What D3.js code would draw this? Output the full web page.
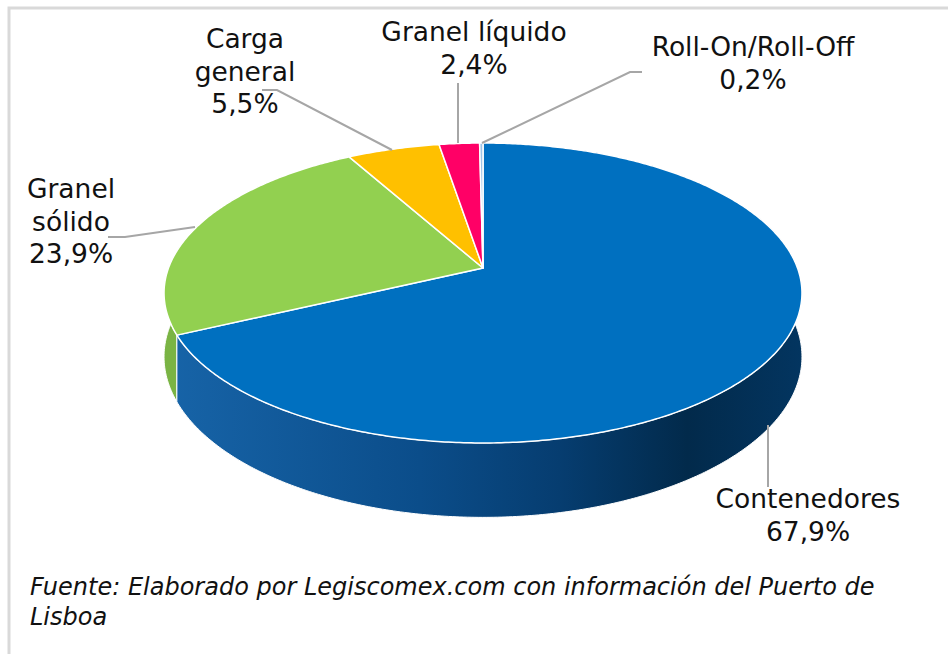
<!DOCTYPE html>
<html>
<head>
<meta charset="utf-8">
<script src="https://cdn.jsdelivr.net/npm/d3@7"></script>
<style>
  body { margin: 0; background: #fff; }
  svg text { font-family: "DejaVu Sans", Verdana, sans-serif; fill: #111; }
</style>
</head>
<body>
<div id="chart"></div>
<script>
// Data
const categories = ['Contenedores', 'Granel sólido', 'Carga general', 'Granel líquido', 'Roll-On/Roll-Off'];
const shares = [67.9, 23.9, 5.5, 2.4, 0.2];
const shareLabels = ['67,9%', '23,9%', '5,5%', '2,4%', '0,2%'];
const labelLines = [['Contenedores'], ['Granel', 'sólido'], ['Carga', 'general'], ['Granel líquido'], ['Roll-On/Roll-Off']];
const sourceLines = ['Fuente: Elaborado por Legiscomex.com con información del Puerto de', 'Lisboa'];

// Styles / layout
const topColors = ['#0070C0', '#92D050', '#FFC000', '#FF0066', '#9DC3E6'];
const sideColors = ['url(#blueSide)', '#7ab444', '#d9a300', '#cc0052', '#7a9cc6'];
const labelPos = [
    {x: 808, y: 508, line: [[768, 425], [768, 487]]},
    {x: 71, y: 198, line: [[108, 237], [125, 237], [195, 227]]},
    {x: 245, y: 48, line: [[262, 90], [277, 90], [392, 150]]},
    {x: 474, y: 41, line: [[458, 83], [458, 143]]},
    {x: 753, y: 56, line: [[642, 72], [630, 72], [482, 143]]}
];

const W = 948, H = 654;
const svg = d3.select('#chart').append('svg')
    .attr('width', W)
    .attr('height', H);

// frame
svg.append('rect')
    .attr('x', 9).attr('y', 8)
    .attr('width', 980).attr('height', 700)
    .attr('fill', '#fff')
    .attr('stroke', '#d9d9d9')
    .attr('stroke-width', 3);

const defs = svg.append('defs');
const grad = defs.append('linearGradient')
    .attr('id', 'blueSide')
    .attr('gradientUnits', 'userSpaceOnUse')
    .attr('x1', 165).attr('x2', 802).attr('y1', 0).attr('y2', 0);
[[0, '#1764a8'], [0.4, '#0b4d8a'], [0.62, '#063d70'], [0.82, '#022a4b'], [1, '#033560']]
    .forEach(s => grad.append('stop').attr('offset', s[0]).attr('stop-color', s[1]));

// perspective projection of a tilted disc
const cx = 483, cy = 268, A = 314.5, B = 145.8, k = 1 / 6, depth = 62;
function proj(phi, r, z) {
    const x = r * Math.sin(phi), d = -r * Math.cos(phi);
    const s = 1 / (1 - k * d);
    return [cx + A * x * s, cy + (B * d + z) * s];
}
function arcPts(a0, a1, z) {
    const n = Math.max(2, Math.ceil((a1 - a0) / 0.01));
    return d3.range(n + 1).map(i => proj(a0 + (a1 - a0) * i / n, 1, z));
}

const pie = d3.pie().sort(null).value(d => d)(shares);
const line = d3.line();

// walls (back slices first, the big one last)
const wallOrder = [3, 2, 4, 1, 0];
svg.append('g').selectAll('path')
    .data(wallOrder.map(i => pie[i]))
    .enter().append('path')
    .attr('d', p => line(arcPts(p.startAngle, p.endAngle, 0)
        .concat(arcPts(p.startAngle, p.endAngle, depth).reverse())) + 'Z')
    .attr('fill', p => sideColors[p.index])
    .attr('stroke', '#fff')
    .attr('stroke-width', 1)
    .attr('stroke-linejoin', 'round');

// top faces
svg.append('g').selectAll('path')
    .data(pie)
    .enter().append('path')
    .attr('d', p => line([proj(0, 0, 0)].concat(arcPts(p.startAngle, p.endAngle, 0))) + 'Z')
    .attr('fill', p => topColors[p.index])
    .attr('stroke', '#fff')
    .attr('stroke-width', 1.5)
    .attr('stroke-linejoin', 'round');

// leader lines
svg.append('g').selectAll('path')
    .data(labelPos)
    .enter().append('path')
    .attr('d', d => line(d.line))
    .attr('fill', 'none')
    .attr('stroke', '#a6a6a6')
    .attr('stroke-width', 2);

// labels
const lbl = svg.append('g').selectAll('text')
    .data(categories)
    .enter().append('text')
    .attr('text-anchor', 'middle')
    .attr('font-size', 26.5)
    .attr('x', (d, i) => labelPos[i].x)
    .attr('y', (d, i) => labelPos[i].y);
lbl.each(function(d, i) {
    const t = d3.select(this);
    labelLines[i].concat([shareLabels[i]]).forEach((s, j) => {
        t.append('tspan')
            .attr('x', labelPos[i].x)
            .attr('dy', j === 0 ? 0 : 32.5)
            .text(s);
    });
});

// source note
svg.append('g').selectAll('text')
    .data(sourceLines)
    .enter().append('text')
    .attr('x', 30)
    .attr('y', (d, i) => 595 + i * 30)
    .attr('font-size', 24)
    .attr('font-style', 'italic')
    .text(d => d);
</script>
</body>
</html>
